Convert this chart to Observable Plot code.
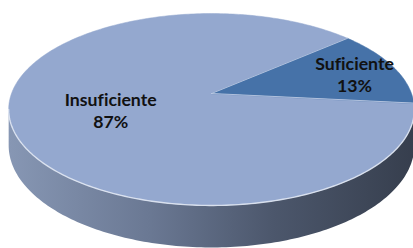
<!DOCTYPE html>
<html>
<head>
<meta charset="utf-8">
<script src="https://cdn.jsdelivr.net/npm/d3@7"></script>
<script src="https://cdn.jsdelivr.net/npm/@observablehq/plot@0.6"></script>
<style>
  html, body { margin: 0; padding: 0; background: #ffffff; }
  #chart svg { display: block; }
  #chart text { font-variant-ligatures: none; font-feature-settings: "liga" 0, "clig" 0; }
</style>
</head>
<body>
<div id="chart"></div>
<script>
// ---- data ----
const categories = ["Insuficiente", "Suficiente"];
const values = [87, 13];
const colors = ["#94a8cf", "#4672a8"];
const labelRadius = [0.515, 0.78];

// ---- 3D pie geometry (perspective view of a tilted disc) ----
const START = 5.8;      // rotation of first slice, degrees (clockwise from 3 o'clock)
const P = 1 / 6;        // perspective strength
const T = 0.375;        // thickness relative to vertical radius
const rad = d => d * Math.PI / 180;
function proj(aDeg, r, h) {
  const a = rad(aDeg);
  const X = r * Math.cos(a), Z = r * Math.sin(a);
  const w = 1 - P * Z;
  return {x: X / w, y: (Z + h * T) / w};
}

const total = d3.sum(values);
let acc = START;
const slices = categories.map((c, i) => {
  const span = values[i] / total * 360;
  const s = {name: c, value: values[i], color: colors[i], a0: acc, a1: acc + span, mid: acc + span / 2, lr: labelRadius[i]};
  acc += span;
  return s;
});

function arcPts(a0, a1, h, key) {
  const n = Math.max(2, Math.ceil(Math.abs(a1 - a0)));
  return d3.range(n + 1).map(k => ({...proj(a0 + (a1 - a0) * k / n, 1, h), key}));
}

// top faces
const tops = slices.map(s => [{...proj(0, 0, 0), key: s.name}, ...arcPts(s.a0, s.a1, 0, s.name)]);
// side wall (visible front part, between the two silhouette tangents)
const aS = Math.asin(P) * 180 / Math.PI;
const side = [...arcPts(aS, 180 - aS, 0, "side"), ...arcPts(180 - aS, aS, 1, "side")];
const rim = arcPts(aS, 180 - aS, 0, "rim");
const spokes = slices.flatMap(s => [{...proj(0, 0, 0), key: s.name}, {...proj(s.a0, 1, 0), key: s.name}]);

const labels = slices.map(s => {
  const p = proj(s.mid, s.lr, 0);
  return {x: p.x, y: p.y, text: s.name + "\n" + Math.round(s.value / total * 100) + "%"};
});

const defsMark = (index, scales) => {
  const defs = d3.create("svg:defs");
  const g = defs.append("linearGradient")
    .attr("id", "sideGrad").attr("gradientUnits", "userSpaceOnUse")
    .attr("x1", scales.x(-1.02)).attr("x2", scales.x(1.02)).attr("y1", 0).attr("y2", 0);
  [[0, "#8797b4"], [0.35, "#6a7893"], [0.65, "#4c576c"], [1, "#363e4d"]].forEach(([o, c]) =>
    g.append("stop").attr("offset", o).attr("stop-color", c));
  return defs.node();
};

const chart = Plot.plot({
  width: 413,
  height: 248,
  margin: 0,
  x: {domain: [-1, 1], range: [211 - 200, 211 + 200], axis: null},
  y: {domain: [-1, 1], range: [93 - 93.3, 93 + 93.3], axis: null},
  style: {background: "#ffffff"},
  marks: [
    defsMark,
    Plot.line(side, {x: "x", y: "y", curve: "linear-closed", fill: "url(#sideGrad)", stroke: "none"}),
    ...slices.map((s, i) => Plot.line(tops[i], {x: "x", y: "y", curve: "linear-closed", fill: s.color, stroke: s.color, strokeWidth: 0.5})),
    Plot.line(spokes, {x: "x", y: "y", z: "key", stroke: "#c3cee6", strokeWidth: 1, strokeOpacity: 0.8}),
    Plot.line(rim, {x: "x", y: "y", stroke: "#e4eaf5", strokeWidth: 1.4, strokeOpacity: 0.85}),
    Plot.text(labels, {x: "x", y: "y", dy: 1.5, text: "text", fontSize: 17.7, fontWeight: "bold", fontFamily: "Lato, 'Open Sans', sans-serif", fill: "#111111", lineHeight: 1.28, textAnchor: "middle"})
  ]
});
document.getElementById("chart").appendChild(chart);
</script>
</body>
</html>
